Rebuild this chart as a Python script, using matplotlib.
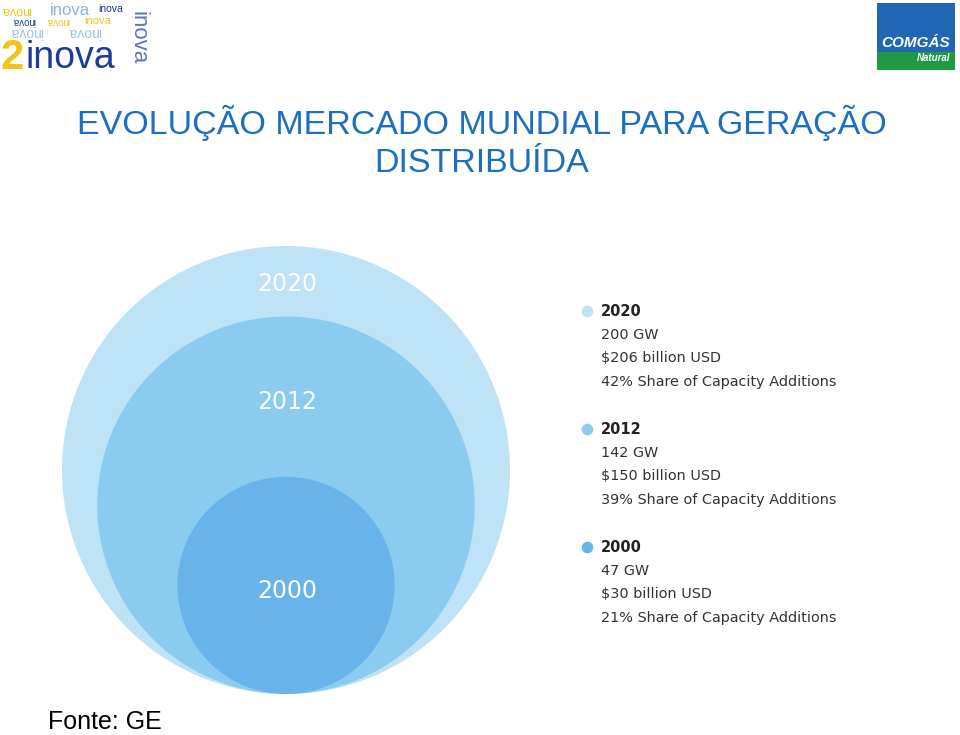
import numpy as np
import matplotlib
matplotlib.use("Agg")
import matplotlib.pyplot as plt
from matplotlib.patches import Circle, Rectangle

years = ["2020", "2012", "2000"]
capacity_gw = [200, 142, 47]
investment_busd = [206, 150, 30]
share_pct = [42, 39, 21]
colors = ["#bee3f7", "#8ccbf0", "#68b3ea"]

plt.rcParams['font.family'] = ['Liberation Sans', 'DejaVu Sans']

fig = plt.figure(figsize=(9.6, 7.35), dpi=100)
ax = fig.add_axes([0, 0, 1, 1])
ax.set_xlim(0, 960)
ax.set_ylim(735, 0)
ax.set_aspect("equal")
ax.axis("off")

# nested circles, area proportional to GW, all touching at the bottom
cx, bottom, r_max = 286, 694, 224
label_y = [284, 402, 591]
for i, y in enumerate(years):
    r = r_max * np.sqrt(capacity_gw[i] / max(capacity_gw))
    ax.add_patch(Circle((cx, bottom - r), r, color=colors[i], lw=0))
    ax.text(cx + 1, label_y[i], y, color="white", fontsize=17,
            family="DejaVu Sans", ha="center", va="center")

# legend block
leg_y = [311, 429, 547]
for i, y in enumerate(years):
    y0 = leg_y[i]
    ax.scatter([587], [y0], s=70, color=colors[i], lw=0)
    lines = [f"{capacity_gw[i]} GW",
             f"${investment_busd[i]} billion USD",
             f"{share_pct[i]}% Share of Capacity Additions"]
    ax.text(601, y0, y, fontsize=10.5, weight="bold", color="#222222",
            family="DejaVu Sans", va="center")
    for j, s in enumerate(lines):
        ax.text(601, y0 + 23.7 * (j + 1), s, fontsize=10.4, color="#333333",
                family="DejaVu Sans", va="center")

# title
title_c = "#1d6fc0"
ax.text(482, 123, "EVOLUÇÃO MERCADO MUNDIAL PARA GERAÇÃO", fontsize=24.5,
        color=title_c, ha="center", va="center")
ax.text(482, 163, "DISTRIBUÍDA", fontsize=24.5, color=title_c,
        ha="center", va="center")

ax.text(48, 722, "Fonte: GE", fontsize=18, color="black", va="center")

# 2inova logo (approximation)
small = [("inova", 1, 10, "#f0c419", 180, 9), ("inova", 50, 10, "#8ab4e0", 0, 12),
         ("inova", 98, 9, "#1f3c99", 0, 7.5), ("inova", 12, 21, "#1f3c99", 180, 7),
         ("inova", 46, 21, "#f0c419", 180, 7), ("inova", 84, 21, "#f0c419", 0, 8),
         ("inova", 10, 32, "#9ec3e8", 180, 10), ("inova", 68, 32, "#9ec3e8", 180, 10)]
for s, x, y, c, rot, fs in small:
    ax.text(x, y, s, fontsize=fs, color=c, rotation=rot, va="center")
ax.text(0, 58, "2", fontsize=30, weight="bold", color="#f0c419", va="center")
ax.text(25, 58, "inova", fontsize=27, color="#1f3c99", va="center")
ax.text(138, 38, "inova", fontsize=16, color="#5a74c4", rotation=270,
        ha="center", va="center")

# COMGAS logo
ax.add_patch(Rectangle((877, 3), 78, 49, color="#2267b3", lw=0))
ax.add_patch(Rectangle((877, 52), 78, 18, color="#1f9a44", lw=0))
ax.text(916, 43, "COMGÁS", fontsize=11, weight="bold", style="italic",
        color="white", ha="center", va="center")
ax.text(950, 58, "Natural", fontsize=7, weight="bold", style="italic",
        color="white", ha="right", va="center")

fig.savefig("out.png", dpi=100)
